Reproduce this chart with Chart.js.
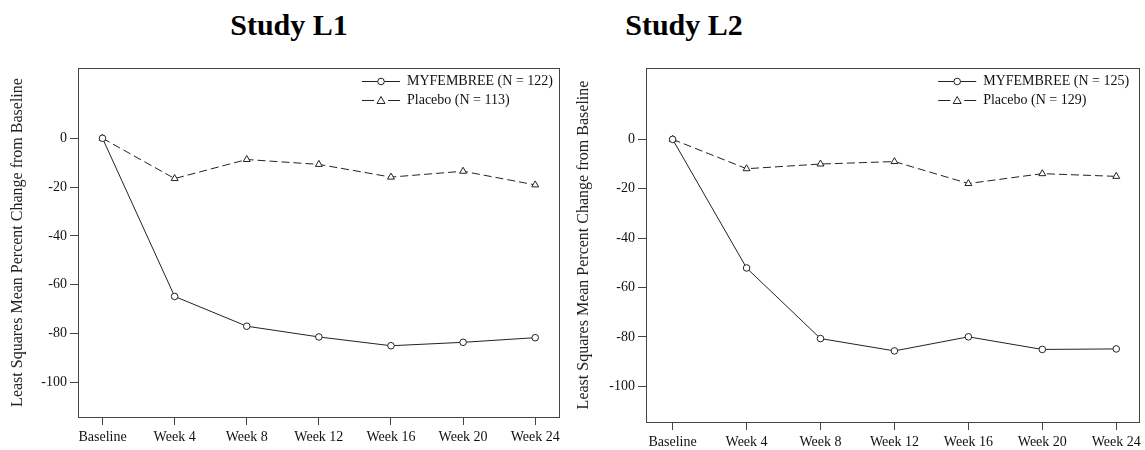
<!DOCTYPE html>
<html>
<head>
<meta charset="utf-8">
<title>Study L1 / Study L2</title>
<script src="https://cdn.jsdelivr.net/npm/chart.js@4.4.0/dist/chart.umd.min.js"></script>
<style>
  body { margin: 0; background: #fff; }
  #page { position: relative; width: 1145px; height: 450px; overflow: hidden; background: #fff; }
  .title { position: absolute; top: 10px; width: 200px; text-align: center; font: bold 30px "Liberation Serif", "Times New Roman", serif; line-height: 30px; color: #000; }
  .box { position: absolute; top: 0; height: 450px; }
</style>
</head>
<body>
<div id="page">
  <div class="title" style="left:189px">Study L1</div>
  <div class="title" style="left:584px">Study L2</div>
  <div class="box" style="left:0;width:566px"><canvas id="chartL1"></canvas></div>
  <div class="box" style="left:566px;width:579px"><canvas id="chartL2"></canvas></div>
</div>
<script>
// values
var weeks = ['Baseline', 'Week 4', 'Week 8', 'Week 12', 'Week 16', 'Week 20', 'Week 24'];
var l1Myfembree = [0, -64.8, -77.0, -81.4, -85.0, -83.6, -81.7];
var l1Placebo = [0, -16.5, -8.7, -10.7, -15.9, -13.5, -19.1];
var l2Myfembree = [0, -52.1, -80.7, -85.7, -80.0, -85.1, -84.9];
var l2Placebo = [0, -11.9, -10.0, -9.0, -17.9, -13.9, -15.0];
var l1Labels = ['MYFEMBREE (N = 122)', 'Placebo (N = 113)'];
var l2Labels = ['MYFEMBREE (N = 125)', 'Placebo (N = 129)'];
var yTicks = [0, -20, -40, -60, -80, -100];
var yTitle = 'Least Squares Mean Percent Change from Baseline';

var serif = '"Liberation Serif", "Times New Roman", serif';
var ink = '#222';

// box around the plot area + legend in the upper right corner
var frameLegend = {
  id: 'frameLegend',
  afterDatasetsDraw: function(chart, args, opts) {
    var ctx = chart.ctx, a = chart.chartArea;
    ctx.save();
    ctx.strokeStyle = '#444';
    ctx.lineWidth = 1;
    ctx.strokeRect(Math.round(a.left) + 0.5, Math.round(a.top) + 0.5,
      Math.round(a.right - a.left), Math.round(a.bottom - a.top));

    var tx = a.right - opts.textOffset;
    chart.data.datasets.forEach(function(ds, i) {
      var y = Math.round(a.top + 13 + i * 18.5) + 0.5;
      ctx.strokeStyle = ds.borderColor;
      ctx.lineWidth = 1;
      ctx.beginPath();
      if (ds.borderDash && ds.borderDash.length) {
        ctx.moveTo(tx - 45, y); ctx.lineTo(tx - 33, y);
        ctx.moveTo(tx - 19, y); ctx.lineTo(tx - 7, y);
      } else {
        ctx.moveTo(tx - 45, y); ctx.lineTo(tx - 7, y);
      }
      ctx.stroke();
      var mx = tx - 26;
      ctx.fillStyle = '#fff';
      ctx.beginPath();
      if (ds.pointStyle === 'triangle') {
        ctx.moveTo(mx, y - 4); ctx.lineTo(mx + 4, y + 3); ctx.lineTo(mx - 4, y + 3); ctx.closePath();
      } else {
        ctx.arc(mx, y, 3.3, 0, Math.PI * 2);
      }
      ctx.fill();
      ctx.stroke();
      ctx.fillStyle = '#111';
      ctx.font = '14px ' + serif;
      ctx.textBaseline = 'middle';
      ctx.fillText(ds.label, tx, y);
    });
    ctx.restore();
  }
};

function toPoints(vals) {
  return vals.map(function(v, i) { return {x: i, y: v}; });
}

function makeChart(id, myVals, plVals, labels, lay) {
  return new Chart(document.getElementById(id), {
    type: 'line',
    data: {
      datasets: [
        {
          label: labels[0],
          data: toPoints(myVals),
          borderColor: ink,
          borderWidth: 1,
          backgroundColor: '#fff',
          pointStyle: 'circle',
          pointRadius: 3.3,
          pointBorderWidth: 1
        },
        {
          label: labels[1],
          data: toPoints(plVals),
          borderColor: ink,
          borderWidth: 1,
          borderDash: [8, 4],
          backgroundColor: '#fff',
          pointStyle: 'triangle',
          pointRadius: 4,
          pointBorderWidth: 1
        }
      ]
    },
    options: {
      responsive: true,
      maintainAspectRatio: false,
      animation: false,
      events: [],
      layout: { padding: { top: lay.top, right: lay.right, left: 0, bottom: 0 } },
      plugins: {
        legend: { display: false },
        tooltip: { enabled: false },
        frameLegend: { textOffset: lay.legend }
      },
      scales: {
        x: {
          type: 'linear',
          min: lay.xMin,
          max: lay.xMax,
          border: { display: false },
          grid: { drawOnChartArea: false, tickLength: 8, color: '#444' },
          afterBuildTicks: function(scale) {
            scale.ticks = weeks.map(function(w, i) { return {value: i}; });
          },
          afterFit: function(scale) { scale.height = lay.xHeight; },
          ticks: {
            padding: 4,
            maxRotation: 0,
            autoSkip: false,
            color: '#111',
            font: { family: serif, size: 14 },
            callback: function(v) { return weeks[v]; }
          }
        },
        y: {
          min: lay.yMin,
          max: lay.yMax,
          border: { display: false },
          grid: { drawOnChartArea: false, tickLength: 8, color: '#444' },
          afterBuildTicks: function(scale) {
            scale.ticks = yTicks.map(function(v) { return {value: v}; });
          },
          afterFit: function(scale) { scale.width = lay.yWidth; },
          ticks: {
            padding: 3,
            color: '#111',
            font: { family: serif, size: 14 }
          },
          title: {
            display: true,
            text: yTitle,
            color: '#222',
            font: { family: serif, size: 16 },
            padding: { top: 8, bottom: 0 }
          }
        }
      }
    },
    plugins: [frameLegend]
  });
}

makeChart('chartL1', l1Myfembree, l1Placebo, l1Labels,
  { top: 68, right: 7, yWidth: 78, xHeight: 33, yMin: -114.2, yMax: 28.8, xMin: -0.34, xMax: 6.33, legend: 152 });
makeChart('chartL2', l2Myfembree, l2Placebo, l2Labels,
  { top: 68, right: 4, yWidth: 80, xHeight: 28, yMin: -114.5, yMax: 28.9, xMin: -0.36, xMax: 6.31, legend: 156 });
</script>
</body>
</html>
